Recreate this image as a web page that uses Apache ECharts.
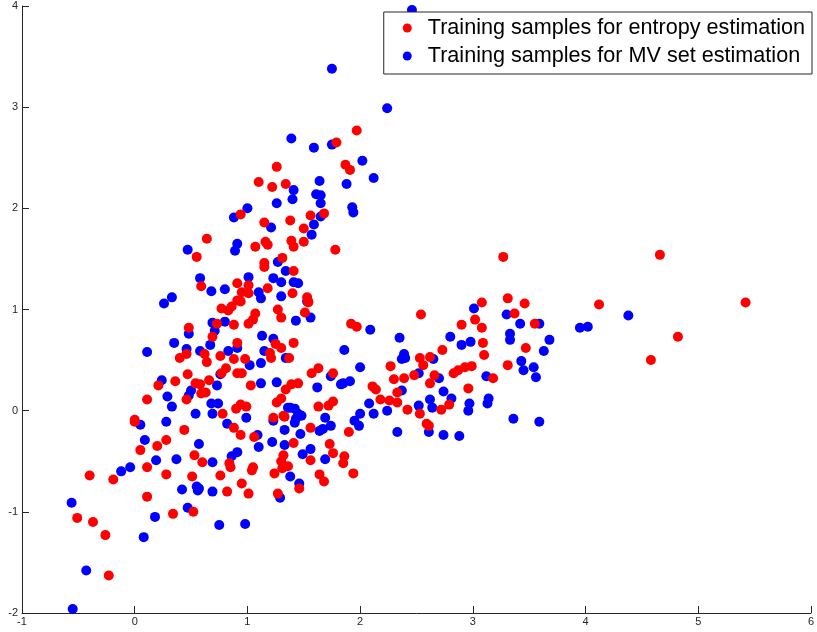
<!DOCTYPE html>
<html>
<head>
<meta charset="utf-8">
<script src="https://cdn.jsdelivr.net/npm/echarts@6/dist/echarts.min.js"></script>
<style>
  html, body { margin: 0; padding: 0; background: #fff; }
  #chart { width: 817px; height: 632px; }
</style>
</head>
<body>
<div id="chart"></div>
<script>
// 图例名称
var seriesNames = ['Training samples for entropy estimation', 'Training samples for MV set estimation'];

// 坐标轴刻度
var xTicks = [-1, 0, 1, 2, 3, 4, 5, 6];
var yTicks = [-2, -1, 0, 1, 2, 3, 4];

// 红点: entropy estimation samples [x, y]
var entropyPoints = [
    [1.79,2.65],[1.97,2.77],[1.87,2.43],[1.91,2.38],[1.26,2.41],[1.10,2.26],[1.22,2.21],[1.34,2.24],
    [0.94,1.94],[1.56,1.93],[1.68,1.95],[1.15,1.86],[1.38,1.88],[1.50,1.80],[0.64,1.70],[1.07,1.62],
    [1.16,1.67],[1.18,1.64],[1.39,1.68],[1.41,1.62],[1.50,1.67],[1.78,1.59],[0.55,1.52],[0.59,1.23],
    [0.91,1.26],[1.01,1.24],[0.95,1.17],[1.01,1.16],[0.91,1.09],[0.86,1.03],[0.77,1.01],[0.94,1.08],
    [0.83,0.99],[1.18,1.21],[1.31,1.51],[1.15,1.46],[1.15,1.42],[1.41,1.38],[1.40,1.16],[1.53,1.12],
    [1.54,1.08],[1.51,0.97],[1.54,1.07],[0.73,0.86],[0.88,0.85],[1.07,0.96],[1.01,0.86],[1.05,0.90],
    [1.27,1.00],[1.30,0.92],[0.48,0.82],[0.69,0.73],[0.40,0.52],[0.46,0.56],[0.62,0.56],[0.64,0.48],
    [0.91,0.67],[0.76,0.54],[0.88,0.51],[0.98,0.51],[1.25,0.66],[1.30,0.62],[1.20,0.57],[1.21,0.52],
    [1.41,0.67],[1.37,0.52],[0.47,0.36],[0.21,0.25],[0.36,0.29],[0.81,0.42],[0.77,0.37],[0.91,0.37],
    [0.95,0.37],[0.54,0.27],[0.58,0.26],[0.63,0.18],[0.59,0.17],[0.66,0.30],[0.11,0.11],[0.46,0.11],
    [0.78,-0.03],[1.03,0.25],[1.34,0.21],[1.39,0.26],[1.45,0.27],[1.26,0.08],[1.30,0.12],[0.90,0.02],
    [0.94,0.06],[0.99,0.04],[1.23,-0.07],[1.32,-0.05],[0.00,-0.09],
    [1.92,0.86],[1.97,0.83],[2.54,0.95],[3.08,1.07],[2.53,0.52],[2.56,0.45],[2.62,0.53],[2.73,0.60],
    [3.02,0.90],[3.08,0.82],[3.09,0.67],[3.10,0.55],[3.18,0.32],[2.90,0.85],[2.27,0.44],[2.30,0.31],
    [2.39,0.32],[2.33,0.18],[2.18,0.11],[2.26,0.10],[2.33,0.08],[2.11,0.24],[2.14,0.21],[2.42,0.01],
    [2.48,0.35],[2.66,0.35],[2.62,0.27],[2.53,-0.03],[2.72,0.01],[2.79,0.06],[2.59,-0.13],[2.61,-0.15],
    [2.83,0.37],[2.87,0.40],[2.93,0.43],[2.99,0.44],[2.96,0.22],[1.57,0.37],[1.63,0.42],[1.76,0.37],
    [1.63,0.04],[1.72,0.05],[1.76,0.09],[1.56,-0.17],[1.90,-0.21],[1.33,-0.06],[3.31,1.11],[3.46,1.06],
    [3.37,0.96],[3.55,0.86],[4.12,1.05],[5.42,1.07],[4.82,0.73],[4.58,0.50],[3.47,0.62],[3.31,0.45],
    [3.27,1.52],[4.66,1.54],
    [1.06,-0.26],[1.41,-0.32],[1.56,-0.49],[1.73,-0.33],[1.76,-0.42],[1.86,-0.45],[1.85,-0.52],[1.94,-0.62],
    [1.32,-0.44],[1.30,-0.50],[1.36,-0.55],[1.31,-0.57],[1.24,-0.62],[1.64,-0.63],[1.68,-0.70],[1.46,-0.77],
    [1.27,-0.82],[1.05,-0.56],[1.04,-0.59],[0.95,-0.72],[1.01,-0.82],[0.84,-0.52],[0.85,-0.56],[0.76,-0.64],
    [0.82,-0.80],[0.60,-0.51],[0.88,-0.17],[0.94,-0.24],[-0.19,-0.68],[0.11,-0.56],[0.28,-0.63],[0.11,-0.85],
    [0.34,-1.02],[0.52,-1.00],[0.00,-0.11],[0.44,-0.19],[0.05,-0.39],[0.20,-0.35],[0.28,-0.29],[0.53,-0.44],
    [0.51,-0.65],[-0.23,-1.63],[-0.26,-1.23],[-0.51,-1.06],[-0.37,-1.10],[-0.40,-0.64]
];

// 蓝点: MV set estimation samples [x, y]
var mvSetPoints = [
    [2.46,3.96],[1.75,3.38],[2.24,2.99],[1.39,2.69],[1.59,2.60],[1.75,2.63],[2.02,2.47],[2.12,2.30],
    [1.88,2.24],[1.41,2.18],[1.40,2.09],[1.26,2.05],[1.64,2.27],[1.61,2.14],[1.65,2.13],[1.65,2.05],
    [1.93,2.01],[1.94,1.96],[1.00,2.00],[0.88,1.91],[1.65,1.92],[1.59,1.84],[1.57,1.74],[1.21,1.81],
    [0.91,1.65],[0.89,1.58],[0.47,1.59],[0.58,1.31],[0.68,1.18],[0.80,1.20],[1.01,1.32],[1.10,1.17],
    [1.12,1.11],[1.23,1.31],[1.30,1.27],[1.34,1.38],[1.27,1.47],[1.41,1.27],[1.30,1.13],[0.26,1.06],
    [0.33,1.12],[0.80,0.88],[0.69,0.87],[0.71,0.79],[1.43,0.89],[0.48,0.76],[0.67,0.65],[0.35,0.67],
    [0.11,0.58],[0.46,0.61],[0.58,0.59],[0.91,0.62],[0.83,0.59],[1.13,0.74],[1.23,0.71],[1.15,0.59],
    [1.12,0.47],[1.02,0.45],[1.34,0.52],[0.24,0.30],[0.50,0.20],[0.48,0.15],[0.73,0.25],[0.29,0.14],
    [0.33,0.04],[0.68,0.07],[0.74,0.07],[0.54,-0.03],[0.69,-0.03],[1.12,0.27],[1.26,0.28],[1.36,0.03],
    [0.99,-0.07],[1.56,0.92],[1.45,1.26],[1.53,1.08],[0.76,0.36],
    [2.09,0.80],[3.01,1.01],[1.86,0.60],[2.00,0.43],[2.39,0.56],[2.37,0.51],[2.40,0.52],[2.35,0.72],
    [2.65,0.51],[2.80,0.73],[2.90,0.65],[2.98,0.68],[3.12,0.34],[2.37,0.20],[2.08,0.07],[2.24,0.00],
    [2.12,-0.03],[2.52,0.37],[2.70,0.32],[2.74,0.19],[2.62,0.11],[2.64,0.03],[2.52,0.05],[2.81,0.12],
    [2.61,-0.21],[2.74,-0.24],[2.88,-0.25],[2.33,-0.21],[2.97,0.07],[2.96,0.00],[3.14,0.12],[3.13,0.07],
    [1.74,0.34],[1.85,0.27],[1.91,0.29],[1.83,0.26],[1.62,0.23],[1.69,-0.07],[1.74,-0.15],[1.64,-0.20],
    [1.67,-0.18],[1.95,-0.10],[2.00,-0.03],[1.99,-0.15],[1.38,0.03],[1.42,0.02],[1.45,-0.03],[1.48,-0.05],
    [1.43,-0.08],[1.42,-0.12],[1.23,-0.10],[1.33,-0.19],[1.47,-0.23],[3.30,0.95],[3.42,0.86],[3.59,0.86],
    [3.95,0.82],[4.02,0.83],[4.38,0.94],[3.33,0.76],[3.33,0.70],[3.68,0.70],[3.63,0.59],[3.43,0.49],
    [3.45,0.40],[3.54,0.43],[3.56,0.33],[3.36,-0.08],[3.59,-0.11],
    [1.10,-0.36],[1.22,-0.31],[1.33,-0.34],[1.56,-0.38],[1.49,-0.43],[1.69,-0.48],[1.38,-0.65],[1.46,-0.72],
    [1.29,-0.86],[0.86,-0.45],[0.91,-0.41],[0.69,-0.80],[0.69,-0.51],[0.57,-0.77],[1.09,-0.24],[0.57,-0.33],
    [-0.12,-0.60],[-0.04,-0.56],[0.19,-0.49],[0.37,-0.48],[0.18,-1.05],[0.47,-0.96],[0.75,-1.13],[0.98,-1.12],
    [0.05,-0.14],[0.28,-0.11],[0.09,-0.29],[0.82,-0.13],[0.55,-0.75],[0.56,-0.79],[0.42,-0.78],[-0.55,-1.96],
    [-0.43,-1.58],[-0.56,-0.91],[0.08,-1.25]
];

var myChart = echarts.init(document.getElementById('chart'));

var axisCommon = {
    axisLine: { show: true, onZero: false, lineStyle: { color: '#262626', width: 1 } },
    axisTick: { show: true, inside: true, length: 7, lineStyle: { color: '#262626' } },
    axisLabel: { color: '#262626', fontSize: 11, fontFamily: 'Liberation Sans, Arial, sans-serif' },
    splitLine: { show: false }
};

var option = {
    animation: false,
    backgroundColor: '#fff',
    grid: { left: 22, right: 2, top: 6, bottom: 19 },
    legend: {
        data: seriesNames,
        orient: 'vertical',
        right: 5,
        top: 12,
        padding: [5, 7, 7, 19],
        itemGap: 6,
        itemWidth: 9,
        itemHeight: 9,
        icon: 'circle',
        backgroundColor: '#fff',
        borderColor: '#262626',
        borderWidth: 1,
        borderRadius: 0,
        textStyle: { fontSize: 21.6, color: '#000', fontFamily: 'Liberation Sans, Arial, sans-serif', padding: [0, 0, 0, 11] }
    },
    xAxis: Object.assign({
        type: 'value',
        min: xTicks[0],
        max: xTicks[xTicks.length - 1],
        interval: 1
    }, axisCommon, { axisLabel: Object.assign({}, axisCommon.axisLabel, { margin: 3 }) }),
    yAxis: Object.assign({
        type: 'value',
        min: yTicks[0],
        max: yTicks[yTicks.length - 1],
        interval: 1
    }, axisCommon, { axisLabel: Object.assign({}, axisCommon.axisLabel, { margin: 4 }) }),
    series: [
        {
            name: seriesNames[1],
            type: 'scatter',
            symbolSize: 10,
            itemStyle: { color: '#0000ff', opacity: 1 },
            data: mvSetPoints
        },
        {
            name: seriesNames[0],
            type: 'scatter',
            symbolSize: 10,
            itemStyle: { color: '#ff0000', opacity: 1 },
            data: entropyPoints
        }
    ]
};

myChart.setOption(option);
</script>
</body>
</html>
